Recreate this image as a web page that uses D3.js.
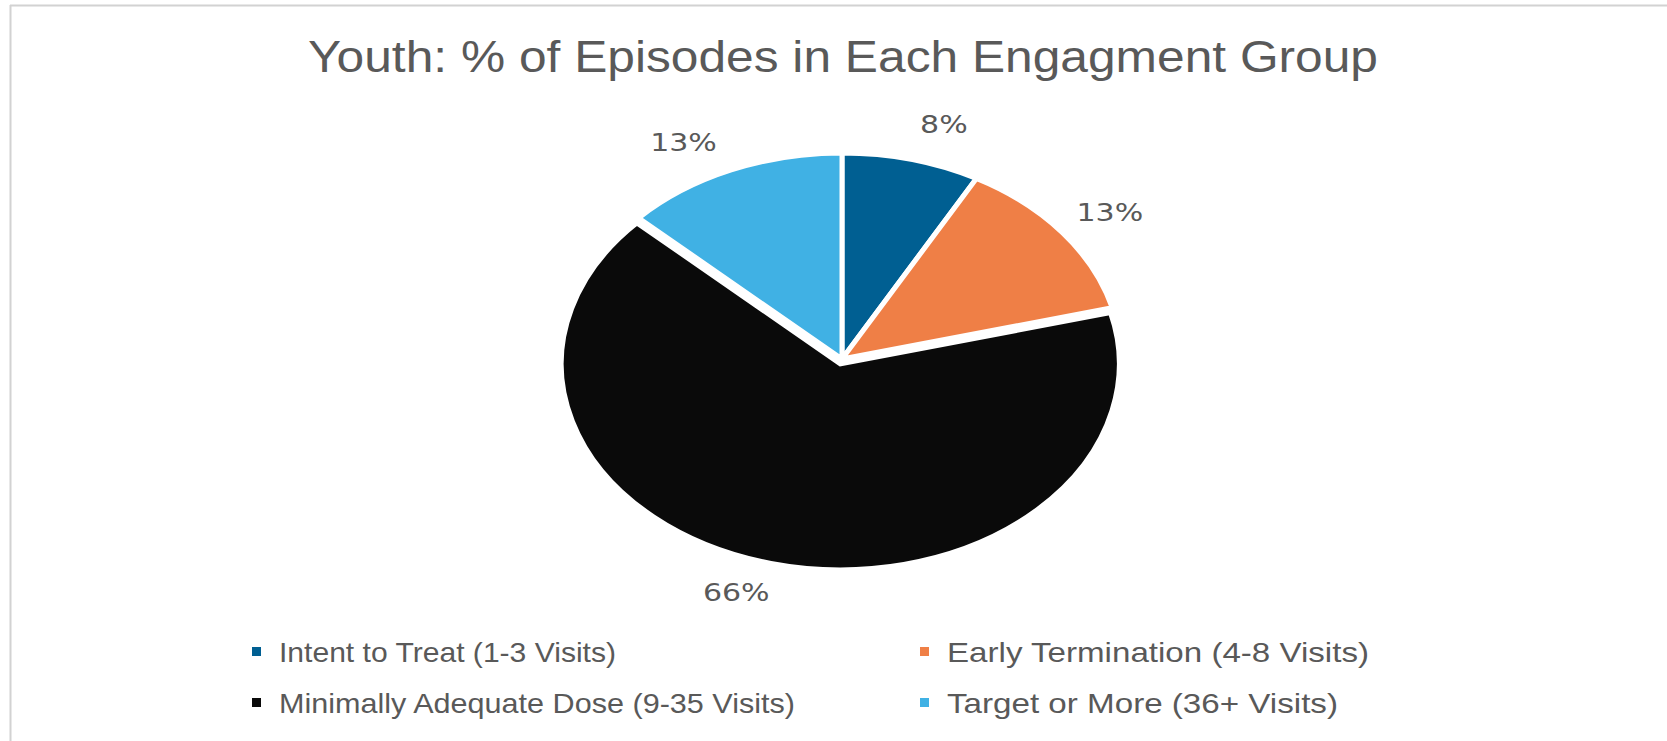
<!DOCTYPE html>
<html>
<head>
<meta charset="utf-8">
<script src="https://cdn.jsdelivr.net/npm/d3@7"></script>
<style>
  html, body { margin: 0; padding: 0; background: #fff; }
  svg { display: block; }
  text { font-family: "Liberation Sans Narrow", "Liberation Sans", "DejaVu Sans", sans-serif; fill: #595959; }
</style>
</head>
<body>
<svg id="chart"></svg>
<script>
// data
const categories = [
  'Intent to Treat (1-3 Visits)',
  'Early Termination (4-8 Visits)',
  'Minimally Adequate Dose (9-35 Visits)',
  'Target or More (36+ Visits)'
]
const shares = [8, 13, 66, 13]
const labels = ['8%', '13%', '66%', '13%']
const colors = ['#005f92', '#ef7f46', '#0a0a0a', '#40b1e4']
const exploded = [0, 0, 1, 0]

const width = 1667
const height = 741
const title = 'Youth: % of Episodes in Each Engagment Group'

const svg = d3.select('#chart')
  .attr('width', width)
  .attr('height', height)

// frame: only top and left edges show in the picture
svg.append('line')
  .attr('x1', 10).attr('x2', width).attr('y1', 5.5).attr('y2', 5.5)
  .attr('stroke', '#d2d2d2').attr('stroke-width', 2)
svg.append('line')
  .attr('x1', 10.5).attr('x2', 10.5).attr('y1', 5).attr('y2', height)
  .attr('stroke', '#d2d2d2').attr('stroke-width', 2)

svg.append('text')
  .attr('x', 843).attr('y', 72)
  .attr('text-anchor', 'middle')
  .attr('font-size', 44)
  .attr('textLength', 1070)
  .attr('lengthAdjust', 'spacingAndGlyphs')
  .text(title)

// pie (drawn round, then stretched sideways like the picture)
const cx = 842, cy = 359
const r = 206
const sx = 279 / 206

const pie = d3.pie().sort(null).value(d => d)
const arcs = pie(shares)
const arc = d3.arc().innerRadius(0).outerRadius(r)

const g = svg.append('g')
  .attr('transform', `translate(${cx},${cy}) scale(${sx},1)`)

g.selectAll('path')
  .data(arcs)
  .enter()
  .append('path')
  .attr('d', arc)
  .attr('fill', (d, i) => colors[i])
  .attr('stroke', '#fff')
  .attr('stroke-width', 5)
  .attr('vector-effect', 'non-scaling-stroke')
  .attr('transform', (d, i) => {
    if (!exploded[i]) return null
    const mid = (d.startAngle + d.endAngle) / 2
    return `translate(${Math.sin(mid) * 5},${-Math.cos(mid) * 5})`
  })

// slice labels, outside end; small turn per label like the picture's placement
const labelRadius = 246
const labelTurn = [3.4, 1.3, 4.1, -5] // degrees
function labelPos(d, i) {
  const a = (d.startAngle + d.endAngle) / 2 + labelTurn[i] * Math.PI / 180
  return [cx + Math.sin(a) * labelRadius * sx, cy - Math.cos(a) * labelRadius]
}

svg.selectAll('.slice-label')
  .data(arcs)
  .enter()
  .append('text')
  .attr('class', 'slice-label')
  .attr('transform', (d, i) => {
    const p = labelPos(d, i)
    return `translate(${p[0]},${p[1]}) scale(1.25,1)`
  })
  .attr('text-anchor', 'middle')
  .attr('dominant-baseline', 'central')
  .attr('font-size', 24)
  .style('font-family', '"DejaVu Sans", sans-serif')
  .text((d, i) => labels[i])

// legend, two columns
const legendX = [257, 925]
const legendY = [652, 703]
const legendW = [337, 422, 516, 391]

const legend = svg.selectAll('.legend')
  .data(categories)
  .enter()
  .append('g')
  .attr('class', 'legend')
  .attr('transform', (d, i) => `translate(${legendX[i % 2]},${legendY[Math.floor(i / 2)]})`)

legend.append('rect')
  .attr('x', -5).attr('y', -5)
  .attr('width', 9).attr('height', 9)
  .attr('fill', (d, i) => colors[i])

legend.append('text')
  .attr('x', 22)
  .attr('dominant-baseline', 'central')
  .attr('font-size', 28)
  .attr('textLength', (d, i) => legendW[i])
  .attr('lengthAdjust', 'spacingAndGlyphs')
  .text(d => d)
</script>
</body>
</html>
